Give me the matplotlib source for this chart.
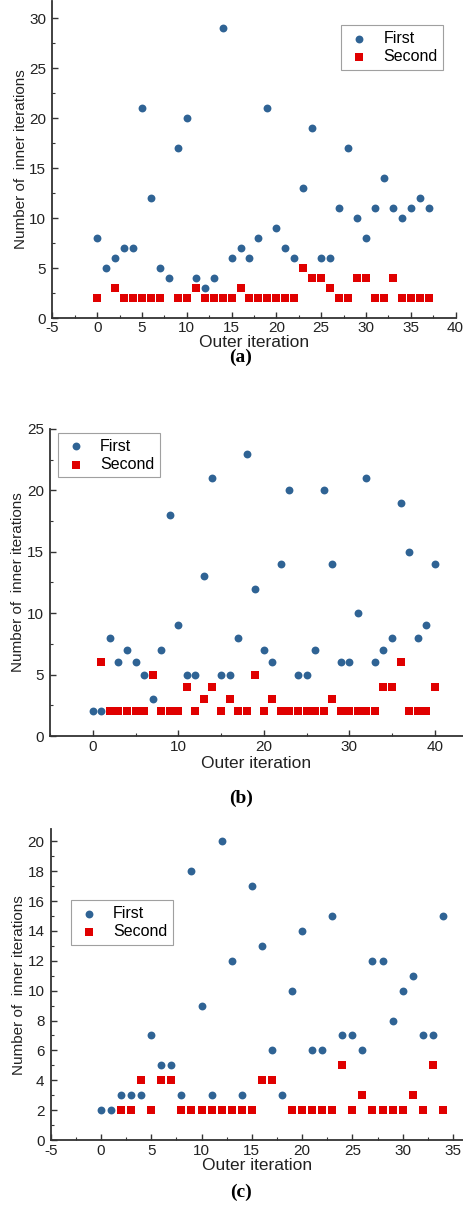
import matplotlib
matplotlib.use('Agg')
import matplotlib.pyplot as plt
from matplotlib.ticker import MultipleLocator

plt.rcParams['font.family'] = ['Liberation Sans', 'DejaVu Sans']
plt.rcParams['axes.unicode_minus'] = False

# panel (a)
a_first_x = list(range(38))
a_first_y = [8, 5, 6, 7, 7, 21, 12, 5, 4, 17, 20, 4, 3, 4, 29, 6, 7, 6, 8, 21,
             9, 7, 6, 13, 19, 6, 6, 11, 17, 10, 8, 11, 14, 11, 10, 11, 12, 11]
a_second_x = [0, 2, 3, 4, 5, 6, 7, 9, 10, 11, 12, 13, 14, 15, 16, 17, 18, 19, 20,
              21, 22, 23, 24, 25, 26, 27, 28, 29, 30, 31, 32, 33, 34, 35, 36, 37]
a_second_y = [2, 3, 2, 2, 2, 2, 2, 2, 2, 3, 2, 2, 2, 2, 3, 2, 2, 2, 2,
              2, 2, 5, 4, 4, 3, 2, 2, 4, 4, 2, 2, 4, 2, 2, 2, 2]

# panel (b)
b_first_x = list(range(41))
b_first_y = [2, 2, 8, 6, 7, 6, 5, 3, 7, 18, 9, 5, 5, 13, 21, 5, 5, 8, 23, 12,
             7, 6, 14, 20, 5, 5, 7, 20, 14, 6, 6, 10, 21, 6, 7, 8, 19, 15, 8, 9, 14]
b_second_x = list(range(1, 41))
b_second_y = [6, 2, 2, 2, 2, 2, 5, 2, 2, 2, 4, 2, 3, 4, 2, 3, 2, 2, 5, 2,
              3, 2, 2, 2, 2, 2, 2, 3, 2, 2, 2, 2, 2, 4, 4, 6, 2, 2, 2, 4]

# panel (c)
c_first_x = list(range(35))
c_first_y = [2, 2, 3, 3, 3, 7, 5, 5, 3, 18, 9, 3, 20, 12, 3, 17, 13, 6, 3, 10,
             14, 6, 6, 15, 7, 7, 6, 12, 12, 8, 10, 11, 7, 7, 15]
c_second_x = [2, 3, 4, 5, 6, 7, 8, 9, 10, 11, 12, 13, 14, 15, 16, 17,
              19, 20, 21, 22, 23, 24, 25, 26, 27, 28, 29, 30, 31, 32, 33, 34]
c_second_y = [2, 2, 4, 2, 4, 4, 2, 2, 2, 2, 2, 2, 2, 2, 4, 4,
              2, 2, 2, 2, 2, 5, 2, 3, 2, 2, 2, 2, 3, 2, 5, 2]

BLUE = '#2f6394'
RED = '#e00000'
AXCOL = '#333333'


def draw_panel(ax, fx, fy, sx, sy, xlim, ylim, xmaj, xmin, ymaj, ymin, legend_pos, xlabelpad):
    ax.scatter(fx, fy, s=32, marker='o', color=BLUE, label='First', zorder=3, linewidths=0)
    ax.scatter(sx, sy, s=28, marker='s', color=RED, label='Second', zorder=3, linewidths=0)
    ax.set_xlim(*xlim)
    ax.set_ylim(*ylim)
    ax.xaxis.set_major_locator(MultipleLocator(xmaj))
    ax.xaxis.set_minor_locator(MultipleLocator(xmin))
    ax.yaxis.set_major_locator(MultipleLocator(ymaj))
    ax.yaxis.set_minor_locator(MultipleLocator(ymin))
    for side in ['top', 'right']:
        ax.spines[side].set_visible(False)
    for side in ['left', 'bottom']:
        ax.spines[side].set_color(AXCOL)
        ax.spines[side].set_linewidth(1.3)
    ax.tick_params(which='major', direction='in', length=4, width=1, color=AXCOL,
                   labelsize=11, labelcolor='#222222')
    ax.tick_params(axis='x', which='major', pad=2.5)
    ax.tick_params(axis='y', which='major', pad=4.5)
    ax.tick_params(which='minor', direction='in', length=2, width=0.8, color=AXCOL)
    ax.set_xlabel('Outer iteration', fontsize=12.5, color='#222222', labelpad=xlabelpad)
    ax.set_ylabel('Number of  inner iterations', fontsize=11, color='#222222', labelpad=1)
    leg = ax.legend(loc='upper left', bbox_to_anchor=legend_pos, borderaxespad=0,
                    fontsize=11.5, fancybox=False, edgecolor='#888888',
                    handletextpad=0.7, borderpad=0.35, labelspacing=0.2,
                    handlelength=1.6)
    leg.get_frame().set_linewidth(0.8)


fig = plt.figure(figsize=(4.63, 12.11), dpi=100)

ax1 = fig.add_axes([0.113, 0.7374, 0.871, 0.2616])
draw_panel(ax1, a_first_x, a_first_y, a_second_x, a_second_y,
           (-5, 40), (0, 31.7), 5, 2.5, 5, 2.5, (0.716, 0.924), 0)
fig.text(0.52, 0.705, '(a)', ha='center', va='center', fontsize=14,
         fontweight='bold', family='Liberation Serif')

ax2 = fig.add_axes([0.108, 0.3922, 0.892, 0.2536])
draw_panel(ax2, b_first_x, b_first_y, b_second_x, b_second_y,
           (-5, 43.3), (0, 25), 10, 5, 5, 2.5, (0.019, 0.987), 2)
fig.text(0.52, 0.341, '(b)', ha='center', va='center', fontsize=14,
         fontweight='bold', family='Liberation Serif')

ax3 = fig.add_axes([0.1095, 0.0586, 0.8905, 0.2566])
draw_panel(ax3, c_first_x, c_first_y, c_second_x, c_second_y,
           (-5, 36), (0, 20.8), 5, 2.5, 2, 1, (0.0485, 0.772), 0)
fig.text(0.52, 0.015, '(c)', ha='center', va='center', fontsize=14,
         fontweight='bold', family='Liberation Serif')

fig.savefig('out.png', dpi=100)
